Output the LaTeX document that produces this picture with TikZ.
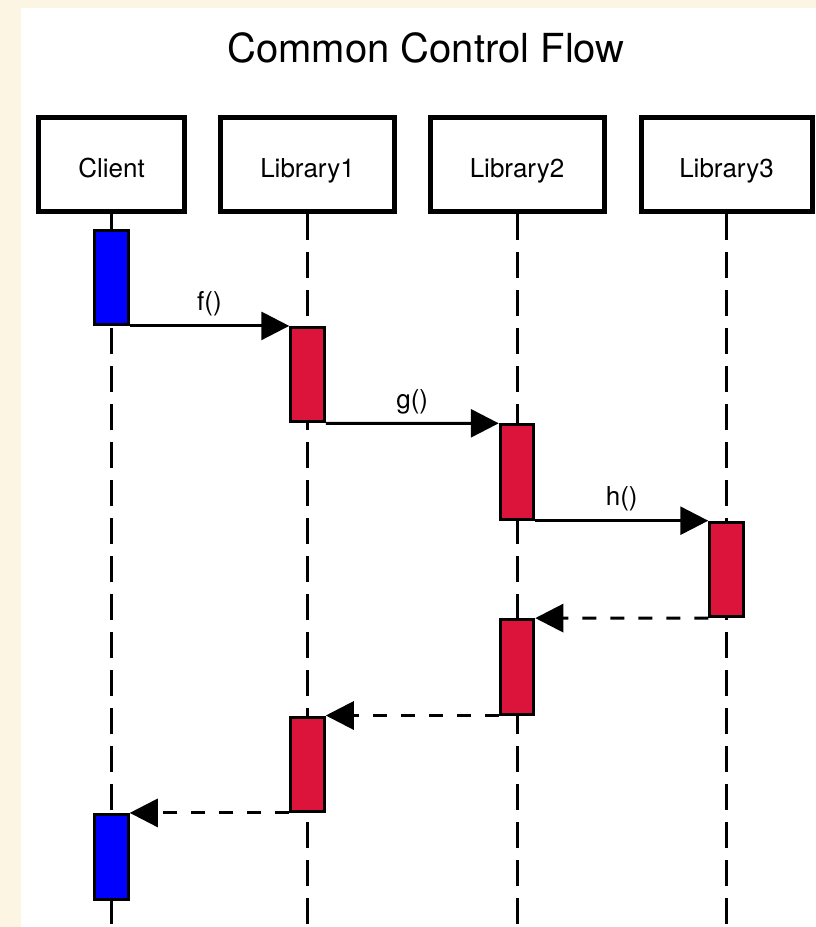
\documentclass[tikz,border=0pt]{standalone}
\usepackage{fontspec}
\setmainfont{TeX Gyre Heros}
\usetikzlibrary{arrows.meta}

\definecolor{paper}{RGB}{252,245,228}
\definecolor{actblue}{RGB}{0,0,255}
\definecolor{actred}{RGB}{220,20,60}

\tikzset{
  party/.style={draw, line width=5pt, fill=white, minimum height=94pt,
    inner sep=0pt, text height=25pt, text depth=0pt,
    font=\fontsize{26}{30}\selectfont},
  lifeline/.style={line width=3pt, dash pattern=on 26pt off 12pt},
  act/.style={draw, line width=3pt, anchor=north, minimum width=33.5pt,
    minimum height=94.4pt, inner sep=0pt},
  clientact/.style={act, fill=actblue},
  libact/.style={act, fill=actred},
  call/.style={line width=3pt, -{Triangle[length=28pt,width=28pt]}},
  reply/.style={call, dash pattern=on 14pt off 14pt},
  msg/.style={font=\fontsize{26}{30}\selectfont, inner sep=0pt, above=8pt, midway}
}

\begin{document}
\begin{tikzpicture}[x=1pt,y=-1pt]
  \useasboundingbox (0,0) rectangle (816,927);
  % page background and white sheet
  \fill[paper] (0,0) rectangle (816,927);
  \fill[white] (21,8) rectangle (816,927);

  \node[font=\fontsize{40}{48}\selectfont, anchor=base] (title) at (426,62) {Common Control Flow};

  % participants
  \node[party, minimum width=146pt] (client) at (111.5,164.5) {Client};
  \node[party, minimum width=174pt] (lib1) at (307.5,164.5) {Library1};
  \node[party, minimum width=174pt] (lib2) at (517,164.5) {Library2};
  \node[party, minimum width=171pt] (lib3) at (726.5,164.5) {Library3};

  % lifeline ends
  \coordinate (clientEnd) at (111.5,927);
  \coordinate (lib1End) at (307.5,927);
  \coordinate (lib2End) at (517,927);
  \coordinate (lib3End) at (726.5,927);

  \draw[lifeline] (client.south) -- (clientEnd);
  \draw[lifeline] (lib1.south) -- (lib1End);
  \draw[lifeline] (lib2.south) -- (lib2End);
  \draw[lifeline] (lib3.south) -- (lib3End);

  % activations
  \node[clientact] (c1) at (111.5,228.5) {};
  \node[libact] (l1a) at (307.5,325.9) {};
  \node[libact] (l2a) at (517,423.3) {};
  \node[libact] (l3a) at (726.5,520.7) {};
  \node[libact] (l2b) at (517,618.1) {};
  \node[libact] (l1b) at (307.5,715.5) {};
  \node[clientact, minimum height=85pt] (c2) at (111.5,812.9) {};

  % calls
  \draw[call] (c1.south east) -- node[msg] {f()} (l1a.north west);
  \draw[call] (l1a.south east) -- node[msg] {g()} (l2a.north west);
  \draw[call] (l2a.south east) -- node[msg] {h()} (l3a.north west);

  % returns
  \draw[reply] (l3a.south west) -- (l2b.north east);
  \draw[reply] (l2b.south west) -- (l1b.north east);
  \draw[reply] (l1b.south west) -- (c2.north east);
\end{tikzpicture}
\end{document}
